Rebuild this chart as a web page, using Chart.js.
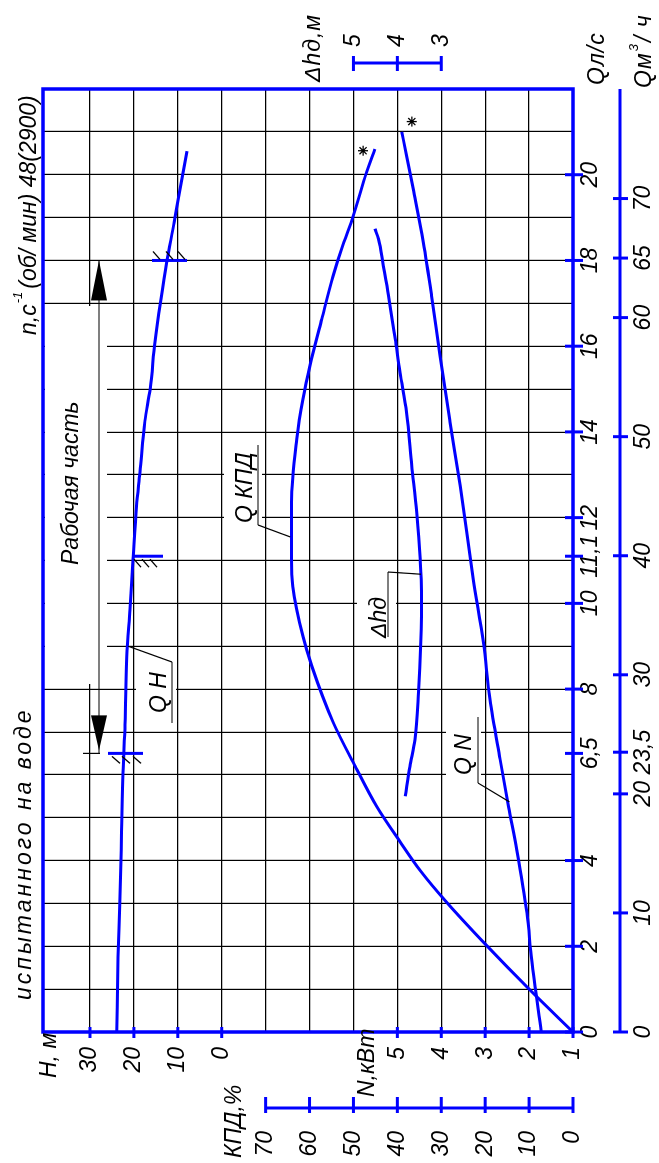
<!DOCTYPE html>
<html>
<head>
<meta charset="utf-8">
<script src="https://cdn.jsdelivr.net/npm/chart.js@4.4.1/dist/chart.umd.min.js"></script>
<style>
  html, body { margin: 0; padding: 0; background: #fff; overflow: hidden; }
  /* лист повёрнут: ось подачи идёт снизу вверх */
  #sheet {
    position: absolute; left: 0; top: 0;
    width: 1163px; height: 659px;
    transform-origin: 0 0;
    transform: translate(0, 1163px) rotate(-90deg);
  }
</style>
</head>
<body>
<div id="sheet"><canvas id="chart" width="1163" height="659"></canvas></div>
<script>
const FAMILY = '"Liberation Sans", Arial, sans-serif';
const BLUE = "#0000ff";

// Q-H
const qHead = [0, 1.75, 2.97, 4.67, 6.05, 7.17, 8.76, 9.86, 11.03, 12.27, 13.06, 14.25, 15.0, 16.1, 17.06, 17.97, 18.9, 19.5, 20.55];
const head = [23.9, 23.6, 23.2, 22.8, 22.5, 22.0, 21.6, 20.9, 20.2, 19.4, 18.6, 17.5, 16.3, 15.2, 13.9, 12.5, 10.8, 9.8, 7.9];

// Q-КПД
const qEff = [0, 0.98, 2.03, 3.04, 3.74, 4.44, 5.26, 6.2, 7.22, 8.54, 9.23, 10.4, 11.03, 12.36, 13.83, 14.77, 15.55, 16.64, 17.65, 18.27, 19.05, 20.06, 20.6];
const eff = [0, 9.8, 19.8, 28.9, 34.6, 39.4, 44.7, 49.6, 54.6, 59.5, 61.5, 63.8, 64.1, 64.1, 62.9, 61.5, 59.9, 57.2, 54.6, 52.7, 50.0, 47.0, 45.1];

// Q-N
const qPower = [0, 1.68, 2.78, 4.25, 5.26, 6.36, 7.76, 9.08, 10.56, 12.74, 14.23, 15.78, 17.18, 18.43, 19.67, 20.45, 21.0];
const power = [1.72, 1.94, 2.05, 2.28, 2.47, 2.66, 2.89, 3.04, 3.27, 3.57, 3.8, 4.03, 4.22, 4.41, 4.64, 4.79, 4.9];

// Q-Δhд
const qNpsh = [5.5, 6.2, 6.82, 7.92, 9.08, 10.26, 11.03, 12.12, 13.21, 14.46, 15.39, 16.17, 17.18, 17.88, 18.5, 18.74];
const npsh = [3.82, 3.71, 3.6, 3.52, 3.47, 3.45, 3.48, 3.56, 3.67, 3.79, 3.94, 4.05, 4.2, 4.32, 4.43, 4.51];

// границы рабочей части и номинальная точка на Q-H
const markQ = [6.5, 11.1, 18];
const markHFrom = [25.9, 20.4, 15.9];
const markHTo = [17.9, 13.4, 7.9];

// звёздочки у концов кривых КПД и N
const starEffQ = 20.56, starEffV = 47.8;
const starPowerQ = 21.24, starPowerV = 4.67;

// деления шкал
const qTicks = [0, 1, 2, 3, 4, 5, 6, 6.5, 7, 8, 9, 10, 11, 11.1, 12, 13, 14, 15, 16, 17, 18, 19, 20, 21];
const qLabels = [0, 2, 4, 6.5, 8, 10, 11.1, 12, 14, 16, 18, 20];
const qmLabels = [0, 10, 20, 23.5, 30, 40, 50, 60, 65, 70];
const headLabels = [0, 10, 20, 30];
const powerTicks = [1, 2, 3, 4, 5, 6, 7, 8, 9, 10, 11, 12];
const powerLabels = [1, 2, 3, 4, 5];
const effLabels = [0, 10, 20, 30, 40, 50, 60, 70];
const npshLabels = [3, 4, 5];

// H и N делят одну ось: N = 9 + H / 10
const headOnPower = h => 9 + h / 10;

const fmt = v => String(v).replace(".", ",");
const pts = (xs, ys) => xs.map((x, i) => ({ x, y: ys[i] }));
const tickFont = { family: FAMILY, size: 23, style: "italic" };
const setTicks = list => s => { s.ticks = list.map(v => ({ value: v })); };
const clear = "rgba(0,0,0,0)";
const fitBox = (w, h) => s => {
  if (w !== null) s.width = w;
  if (h !== null) s.height = h;
  s.paddingTop = s.paddingBottom = s.paddingLeft = s.paddingRight = 0;
};

const powerLabel = v => {
  if (powerLabels.includes(v)) return fmt(v);
  const h = headLabels.find(x => headOnPower(x) === v);
  return h === undefined ? "" : fmt(h);
};

const curve = (data, axis) => ({
  data, yAxisID: axis, borderColor: BLUE, borderWidth: 3,
  pointRadius: 0, cubicInterpolationMode: "monotone", fill: false,
});

const marks = markQ.map((q, i) => ({
  data: [{ x: q, y: markHFrom[i] }, { x: q, y: markHTo[i] }],
  yAxisID: "h", borderColor: BLUE, borderWidth: 3, pointRadius: 0, tension: 0,
}));

const star = (q, v, axis) => ({
  data: [{ x: q, y: v }], yAxisID: axis, showLine: false,
  pointStyle: "star", pointRadius: 5, borderColor: "#000", borderWidth: 1.3,
});

// белые окна под подписи кривых и под размерную линию
const masks = [
  [479, 45, 378, 62],
  [434, 136, 75, 40],
  [633, 224, 90, 38],
  [522, 357, 75, 39],
  [377, 446, 74, 35],
];

function text(c, str, x, y, size, spacing) {
  c.font = `italic ${size}px ${FAMILY}`;
  c.letterSpacing = `${spacing || 0}px`;
  c.fillText(str, x, y);
  const end = x + c.measureText(str).width;
  c.letterSpacing = "0px";
  return end;
}

function line(c, x1, y1, x2, y2) {
  c.beginPath(); c.moveTo(x1, y1); c.lineTo(x2, y2); c.stroke();
}

const sheet = {
  id: "sheet",
  beforeDatasetsDraw(chart) {
    const c = chart.ctx;
    c.save();
    c.fillStyle = "#fff";
    masks.forEach(([x, y, w, h]) => c.fillRect(x, y, w, h));
    c.restore();
  },
  afterDraw(chart) {
    const c = chart.ctx;
    const s = chart.scales;
    const a = chart.chartArea;
    const px = q => s.x.getPixelForValue(q);
    c.save();

    // рамка
    c.strokeStyle = BLUE;
    c.lineWidth = 3.5;
    c.strokeRect(a.left, a.top, a.right - a.left, a.bottom - a.top);

    // оси с поперечными делениями
    c.lineWidth = 3;
    qLabels.forEach(v => line(c, px(v), 565, px(v), 583));
    const qm = s.qm;
    line(c, qm.getPixelForValue(0), 620, a.right, 620);
    qmLabels.forEach(v => line(c, qm.getPixelForValue(v), 613, qm.getPixelForValue(v), 628));
    headLabels.forEach(v => line(c, a.left - 6, s.h.getPixelForValue(v), a.left + 5, s.h.getPixelForValue(v)));
    powerLabels.forEach(v => line(c, a.left - 6, s.n.getPixelForValue(v), a.left + 5, s.n.getPixelForValue(v)));
    line(c, 55, s.eff.getPixelForValue(70), 55, s.eff.getPixelForValue(0));
    effLabels.forEach(v => line(c, 50, s.eff.getPixelForValue(v), 66, s.eff.getPixelForValue(v)));
    line(c, 1100, s.npsh.getPixelForValue(5), 1100, s.npsh.getPixelForValue(3));
    npshLabels.forEach(v => line(c, 1092, s.npsh.getPixelForValue(v), 1107, s.npsh.getPixelForValue(v)));

    // штриховка у отметок на Q-H
    c.strokeStyle = "#000";
    c.lineWidth = 1.2;
    const x65 = px(6.5), x111 = px(11.1), x18 = px(18);
    [112, 122, 133].forEach(y => line(c, x65 - 3, y, x65 - 10, y + 8));
    [134, 142, 150].forEach(y => line(c, x111 - 3, y, x111 - 11, y + 7));
    [153, 166, 178].forEach(y => line(c, x18 + 9, y, x18 + 1, y + 7));

    // размерная линия рабочей части
    line(c, x65, 99, x18, 99);
    line(c, x65, 83, x65, 100);
    c.fillStyle = "#000";
    c.beginPath(); c.moveTo(x18, 99); c.lineTo(x18 - 40, 91); c.lineTo(x18 - 40, 107); c.closePath(); c.fill();
    c.beginPath(); c.moveTo(x65 + 3, 99); c.lineTo(x65 + 38, 91); c.lineTo(x65 + 38, 107); c.closePath(); c.fill();

    // выноски подписей кривых
    line(c, 440, 172, 501, 172);
    line(c, 501, 172, px(9.0), s.h.getPixelForValue(21.3));
    line(c, 638, 258, 718, 258);
    line(c, 638, 258, px(11.55), s.eff.getPixelForValue(64.4));
    line(c, 526, 388, 591, 388);
    line(c, 591, 388, px(10.68), s.npsh.getPixelForValue(3.46));
    line(c, 380, 478, 446, 478);
    line(c, 380, 478, px(5.37), s.n.getPixelForValue(2.45));

    // надписи
    c.textBaseline = "alphabetic";
    c.textAlign = "left";
    text(c, "H, м", 85, 56, 23);
    text(c, "N,кВт", 66, 374, 23);
    text(c, "КПД,%", 5, 241, 23);
    text(c, "Δhд,м", 1081, 320, 23, 1);
    text(c, "Qл/с", 1078, 604, 23, 1);
    let e = text(c, "Qм", 1075, 651, 23, 1);
    e = text(c, "3", e + 1, 638, 13);
    text(c, "/ ч", e + 2, 651, 23, 1);
    text(c, "испытанного на воде", 163, 31, 23, 3);
    e = text(c, "n,c", 828, 36, 23);
    e = text(c, "-1", e + 1, 22, 13);
    text(c, "(об/ мин) 48(2900)", e + 3, 36, 23);
    text(c, "Рабочая часть", 598, 78, 23);
    text(c, "Q H", 450, 166, 23);
    text(c, "Q КПД", 640, 252, 23);
    text(c, "Δhд", 525, 386, 23);
    text(c, "Q N", 388, 471, 23);

    c.restore();
  },
};

new Chart(document.querySelector("#chart"), {
  type: "line",
  data: {
    datasets: [
      curve(pts(qHead, head), "h"),
      curve(pts(qEff, eff), "eff"),
      curve(pts(qPower, power), "n"),
      curve(pts(qNpsh, npsh), "npsh"),
      ...marks,
      star(starEffQ, starEffV, "eff"),
      star(starPowerQ, starPowerV, "n"),
    ],
  },
  options: {
    responsive: false,
    animation: false,
    devicePixelRatio: 1,
    layout: { padding: { top: 43, left: 0, right: 0, bottom: 0 } },
    plugins: { legend: { display: false }, tooltip: { enabled: false } },
    scales: {
      x: {
        type: "linear", axis: "x", position: "bottom", min: 0, max: 22,
        afterBuildTicks: setTicks(qTicks),
        afterFit: fitBox(null, 47),
        ticks: {
          autoSkip: false, maxRotation: 0, padding: 4, color: "#000", font: tickFont,
          callback: v => (qLabels.includes(v) ? fmt(v) : ""),
        },
        grid: {
          drawTicks: false, lineWidth: 1.2,
          color: ctx => (ctx.tick && Number.isInteger(ctx.tick.value) && ctx.tick.value > 0 ? "#000" : clear),
        },
        border: { display: false },
      },
      qm: {
        type: "linear", axis: "x", position: "bottom", min: 0, max: 22 * 3.6,
        afterBuildTicks: setTicks(qmLabels),
        afterFit: fitBox(null, 39),
        ticks: { autoSkip: false, maxRotation: 0, padding: 2, color: "#000", font: tickFont, callback: v => fmt(v) },
        grid: { display: false },
        border: { display: false },
      },
      h: {
        type: "linear", axis: "y", position: "left", min: -80, max: 40.7,
        display: false,
      },
      n: {
        type: "linear", axis: "y", position: "left", min: 1, max: 13.07,
        afterBuildTicks: setTicks(powerTicks),
        afterFit: fitBox(76, null),
        ticks: { autoSkip: false, padding: 15, color: "#000", font: tickFont, callback: powerLabel },
        grid: {
          drawTicks: false, lineWidth: 1.2,
          color: ctx => (ctx.tick && ctx.tick.value >= 2 ? "#000" : clear),
        },
        border: { display: false },
      },
      eff: {
        type: "linear", axis: "y", position: "left", min: 0, max: 120.7,
        afterBuildTicks: setTicks(effLabels),
        afterFit: fitBox(55, null),
        ticks: { autoSkip: false, padding: 15, color: "#000", font: tickFont },
        grid: { display: false },
        border: { display: false },
      },
      npsh: {
        type: "linear", axis: "y", position: "right", min: 0, max: 12.07,
        afterBuildTicks: setTicks(npshLabels),
        afterFit: fitBox(89, null),
        ticks: { autoSkip: false, padding: 34, color: "#000", font: tickFont },
        grid: { display: false },
        border: { display: false },
      },
    },
  },
  plugins: [sheet],
});
</script>
</body>
</html>
